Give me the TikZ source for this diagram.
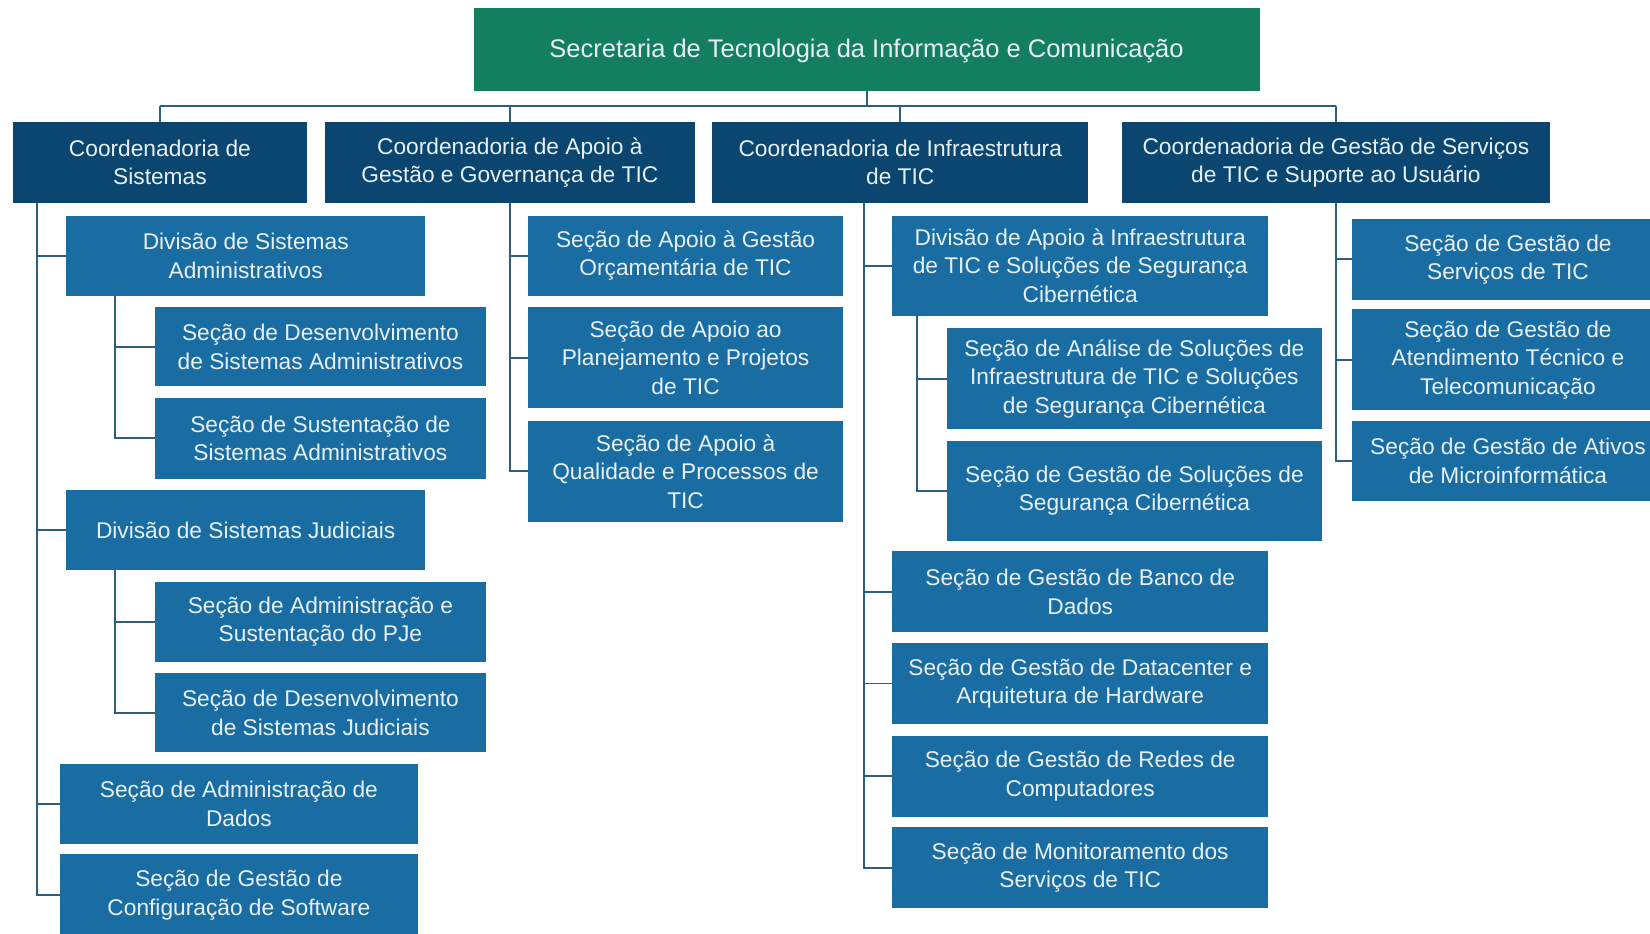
\documentclass[tikz,border=0pt]{standalone}
\usepackage{fontspec}
\setmainfont{Liberation Sans}
\usetikzlibrary{calc}
\definecolor{secgreen}{HTML}{137F5E}
\definecolor{coordnavy}{HTML}{0A4670}
\definecolor{unitblue}{HTML}{1A6DA3}
\definecolor{linkcol}{HTML}{2E5E7E}
\definecolor{boxtext}{HTML}{E8F0F5}
% \orgbox{name}{style}{x1}{y1}{x2}{y2}{text}: box given by its corners
\newcommand\orgbox[7]{%
  \node[#2, minimum width={(#5-#3)*1pt}, minimum height={(#6-#4)*1pt}]
    (#1) at ({(#3+#5)/2},{(#4+#6)/2}) {#7};}
\begin{document}
\begin{tikzpicture}[x=1pt,y=-1pt,
  boxbase/.style={rectangle, inner sep=0pt, outer sep=0pt, align=center,
    text=boxtext, font=\fontsize{21.6}{27}\selectfont},
  topbox/.style={boxbase, fill=secgreen, font=\fontsize{24.2}{28}\selectfont},
  coordbox/.style={boxbase, fill=coordnavy},
  unitbox/.style={boxbase, fill=unitblue},
  link/.style={draw=linkcol, line width=1.8pt}]
\clip (0,0) rectangle (1568,887);

% top level and coordinations
\orgbox{top}{topbox}{450}{8}{1197}{86}{}
\node[topbox, fill=none, anchor=base] (toptext) at ($(top.center)+(0,8)$)
  {Secretaria de Tecnologia da Informação e Comunicação};
\orgbox{c1}{coordbox}{12}{116}{292}{193}{Coordenadoria de\\Sistemas}
\orgbox{c2}{coordbox}{309}{116}{660}{193}{Coordenadoria de Apoio à\\Gestão e Governança de TIC}
\orgbox{c3}{coordbox}{677}{116}{1034}{193}{Coordenadoria de Infraestrutura\\de TIC}
\orgbox{c4}{coordbox}{1066}{116}{1473}{193}{Coordenadoria de Gestão de Serviços\\de TIC e Suporte ao Usuário}

% Coordenadoria de Sistemas
\orgbox{d1}{unitbox}{63}{205}{404}{281}{Divisão de Sistemas\\Administrativos}
\orgbox{s11}{unitbox}{147}{292}{462}{367}{Seção de Desenvolvimento\\de Sistemas Administrativos}
\orgbox{s12}{unitbox}{147}{378}{462}{455}{Seção de Sustentação de\\Sistemas Administrativos}
\orgbox{d2}{unitbox}{63}{466}{404}{542}{Divisão de Sistemas Judiciais}
\orgbox{s21}{unitbox}{147}{553}{462}{629}{Seção de Administração e\\Sustentação do PJe}
\orgbox{s22}{unitbox}{147}{640}{462}{715}{Seção de Desenvolvimento\\de Sistemas Judiciais}
\orgbox{s13}{unitbox}{57}{726}{397}{802}{Seção de Administração de\\Dados}
\orgbox{s14}{unitbox}{57}{812}{397}{889}{Seção de Gestão de\\Configuração de Software}

% Coordenadoria de Apoio à Gestão e Governança
\orgbox{e1}{unitbox}{502}{205}{801}{281}{Seção de Apoio à Gestão\\Orçamentária de TIC}
\orgbox{e2}{unitbox}{502}{292}{801}{388}{Seção de Apoio ao\\Planejamento e Projetos\\de TIC}
\orgbox{e3}{unitbox}{502}{400}{801}{496}{Seção de Apoio à\\Qualidade e Processos de\\TIC}

% Coordenadoria de Infraestrutura
\orgbox{f1}{unitbox}{848}{205}{1205}{300}{Divisão de Apoio à Infraestrutura\\de TIC e Soluções de Segurança\\Cibernética}
\orgbox{f11}{unitbox}{900}{312}{1256}{408}{Seção de Análise de Soluções de\\Infraestrutura de TIC e Soluções\\de Segurança Cibernética}
\orgbox{f12}{unitbox}{900}{419}{1256}{514}{Seção de Gestão de Soluções de\\Segurança Cibernética}
\orgbox{f2}{unitbox}{848}{524}{1205}{601}{Seção de Gestão de Banco de\\Dados}
\orgbox{f3}{unitbox}{848}{611}{1205}{688}{Seção de Gestão de Datacenter e\\Arquitetura de Hardware}
\orgbox{f4}{unitbox}{848}{699}{1205}{776}{Seção de Gestão de Redes de\\Computadores}
\orgbox{f5}{unitbox}{848}{786}{1205}{863}{Seção de Monitoramento dos\\Serviços de TIC}

% Coordenadoria de Gestão de Serviços e Suporte
\orgbox{g1}{unitbox}{1285}{208}{1581}{285}{Seção de Gestão de\\Serviços de TIC}
\orgbox{g2}{unitbox}{1285}{294}{1581}{390}{Seção de Gestão de\\Atendimento Técnico e\\Telecomunicação}
\orgbox{g3}{unitbox}{1285}{400}{1581}{476}{Seção de Gestão de Ativos\\de Microinformática}

% trunk start points
\coordinate (bus) at (0,101);
\coordinate (t1) at ($(c1.south west)+(23,0)$);
\coordinate (t11) at ($(d1.south west)+(46,0)$);
\coordinate (t12) at ($(d2.south west)+(46,0)$);
\coordinate (t3) at ($(c3.south west)+(144,0)$);
\coordinate (t31) at ($(f1.south west)+(23,0)$);

% secretaria to coordinations
\draw[link] (top.south) -- (top.south |- bus);
\foreach \c in {c1,c2,c3,c4}
  \draw[link] (\c.north) -- (\c.north |- bus);
\draw[link] (c1.north |- bus) -- (c4.north |- bus);

% branches
\foreach \u in {d1,d2,s13,s14} \draw[link] (t1) |- (\u.west);
\foreach \u in {s11,s12} \draw[link] (t11) |- (\u.west);
\foreach \u in {s21,s22} \draw[link] (t12) |- (\u.west);
\foreach \u in {e1,e2,e3} \draw[link] (c2.south) |- (\u.west);
\foreach \u in {f1,f2,f3,f4,f5} \draw[link] (t3) |- (\u.west);
\foreach \u in {f11,f12} \draw[link] (t31) |- (\u.west);
\foreach \u in {g1,g2,g3} \draw[link] (c4.south) |- (\u.west);
\end{tikzpicture}
\end{document}
